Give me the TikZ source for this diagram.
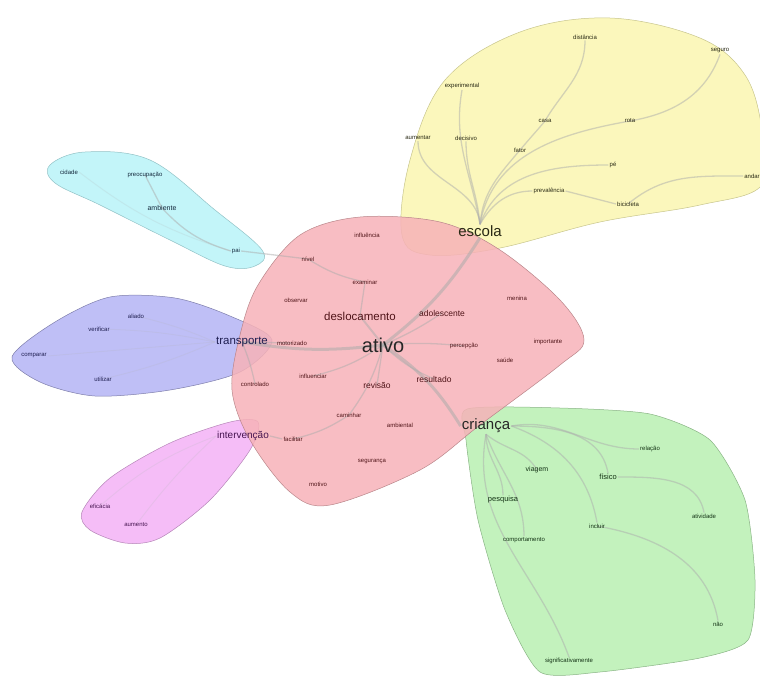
\documentclass[tikz,border=0pt]{standalone}
\usepackage{fontspec}
\setmainfont{Liberation Sans}
\usetikzlibrary{backgrounds}
\pgfdeclarelayer{hulls}
\pgfdeclarelayer{edges}
\pgfsetlayers{hulls,edges,main}
\definecolor{cpink}{RGB}{247,178,184}
\definecolor{cyell}{RGB}{250,246,176}
\definecolor{ccyan}{RGB}{184,243,248}
\definecolor{cblue}{RGB}{180,180,245}
\definecolor{cmag}{RGB}{243,178,246}
\definecolor{cgreen}{RGB}{184,240,178}
\definecolor{tpink}{RGB}{80,20,25}
\definecolor{tyell}{RGB}{40,40,20}
\definecolor{tcyan}{RGB}{20,40,60}
\definecolor{tblue}{RGB}{30,30,80}
\definecolor{tmag}{RGB}{70,20,80}
\definecolor{tgreen}{RGB}{20,50,20}
\tikzset{
  wd/.style={inner sep=1pt,font=\fontsize{6}{7}\selectfont},
  wm/.style={inner sep=1pt,font=\fontsize{8.5}{10}\selectfont},
  wl/.style={inner sep=1pt,font=\fontsize{11.5}{13}\selectfont},
  wxl/.style={inner sep=1pt,font=\fontsize{15}{17}\selectfont},
  wxxl/.style={inner sep=1pt,font=\fontsize{20}{22}\selectfont},
  hull/.style={fill opacity=0.85,line width=0.5pt},
  lk/.style={draw=gray!65,line width=1.3pt,opacity=0.5},
  lkb/.style={draw=gray!65,line width=3pt,opacity=0.55},
  lkf/.style={draw=gray!60,line width=1pt,opacity=0.18},
}
\begin{document}
\begin{tikzpicture}[x=1pt,y=-1pt]
\useasboundingbox (0,0) rectangle (760,675);
\begin{pgfonlayer}{hulls}
% yellow
\draw[hull,fill=cyell,draw=cyell!80!black] plot[smooth cycle,tension=0.6] coordinates {
 (402,235) (410,160) (445,80) (520,32) (610,18) (700,38) (745,75) (762,130) (762,185) (700,205) (600,222) (500,248) (430,255)};
% cyan
\draw[hull,fill=ccyan,draw=ccyan!80!black] plot[smooth cycle,tension=0.6] coordinates {
 (50,165) (85,152) (150,160) (215,210) (262,250) (255,266) (225,266) (170,240) (100,205) (55,183)};
% blue
\draw[hull,fill=cblue,draw=cblue!70!black] plot[smooth cycle,tension=0.5] coordinates {
 (12,357) (55,322) (110,297) (175,298) (230,316) (272,340) (240,372) (170,390) (95,396) (40,382)};
% magenta
\draw[hull,fill=cmag,draw=cmag!75!black] plot[smooth cycle,tension=0.5] coordinates {
 (82,512) (110,478) (170,443) (230,422) (258,422) (250,450) (210,500) (160,538) (125,543) (90,530)};
% green
\draw[hull,fill=cgreen,draw=cgreen!75!black] plot[smooth cycle,tension=0.4] coordinates {
 (467,409) (560,408) (650,414) (710,440) (745,500) (755,580) (748,640) (700,658) (600,672) (540,672) (505,610) (478,520) (466,440)};
% pink
\draw[hull,fill=cpink,draw=cpink!75!black] plot[smooth cycle,tension=0.55] coordinates {
 (258,285) (300,235) (360,217) (440,222) (500,250) (560,300) (584,340) (560,365) (480,425) (420,470) (330,505) (290,492) (250,440) (232,390) (240,335)};
\end{pgfonlayer}
% ---- pink nodes
\node[wxxl,text=black!85] (ativo) at (383,345) {ativo};
\node[wl,text=tpink] (desl) at (360,316) {deslocamento};
\node[wm,text=tpink] (adol) at (442,313) {adolescente};
\node[wd,text=tpink] (infl) at (367,235) {influência};
\node[wd,text=tpink] (nivel) at (308,259) {nível};
\node[wd,text=tpink] (exam) at (365,282) {examinar};
\node[wd,text=tpink] (obs) at (296,300) {observar};
\node[wd,text=tpink] (men) at (517,298) {menina};
\node[wd,text=tpink] (imp) at (548,342) {importante};
\node[wd,text=tpink] (perc) at (464,346) {percepção};
\node[wd,text=tpink] (saude) at (505,360) {saúde};
\node[wm,text=tpink] (res) at (434,379) {resultado};
\node[wm,text=tpink] (rev) at (377,385) {revisão};
\node[wd,text=tpink] (inflc) at (313,376) {influenciar};
\node[wd,text=tpink] (contr) at (255,384) {controlado};
\node[wd,text=tpink] (motor) at (292,343) {motorizado};
\node[wd,text=tpink] (cam) at (349,415) {caminhar};
\node[wd,text=tpink] (amb) at (400,425) {ambiental};
\node[wd,text=tpink] (fac) at (293,439) {facilitar};
\node[wd,text=tpink] (seg) at (372,462) {segurança};
\node[wd,text=tpink] (motivo) at (318,484) {motivo};
% ---- yellow nodes
\node[wxl,text=tyell] (escola) at (480,231) {escola};
\node[wd,text=tyell] (dist) at (585,37) {distância};
\node[wd,text=tyell] (seguro) at (720,51) {seguro};
\node[wd,text=tyell] (exper) at (462,86) {experimental};
\node[wd,text=tyell] (casa) at (545,121) {casa};
\node[wd,text=tyell] (rota) at (630,121) {rota};
\node[wd,text=tyell] (aument) at (418,138) {aumentar};
\node[wd,text=tyell] (decis) at (466,138) {decisivo};
\node[wd,text=tyell] (fator) at (520,150) {fator};
\node[wd,text=tyell] (pe) at (613,165) {pé};
\node[wd,text=tyell] (prev) at (549,191) {prevalência};
\node[wd,text=tyell] (bici) at (628,204) {bicicleta};
\node[wd,text=tyell] (andar) at (752,176) {andar};
% ---- cyan nodes
\node[wd,text=tcyan] (cid) at (69,172) {cidade};
\node[wd,text=tcyan] (preoc) at (145,175) {preocupação};
\node[wd,text=tcyan,font=\fontsize{7}{8}\selectfont] (ambte) at (162,208) {ambiente};
\node[wd,text=tcyan] (pai) at (236,251) {pai};
% ---- blue nodes
\node[wl,text=tblue] (transp) at (242,342) {transporte};
\node[wd,text=tblue] (alia) at (136,316) {aliado};
\node[wd,text=tblue] (verif) at (99,329) {verificar};
\node[wd,text=tblue] (comp) at (34,356) {comparar};
\node[wd,text=tblue] (util) at (103,379) {utilizar};
% ---- magenta nodes
\node[wm,text=tmag,font=\fontsize{10}{12}\selectfont] (interv) at (243,436) {intervenção};
\node[wd,text=tmag] (efic) at (100,506) {eficácia};
\node[wd,text=tmag] (aumto) at (136,525) {aumento};
% ---- green nodes
\node[wxl,text=black!85] (crianca) at (486,426) {criança};
\node[wd,text=tgreen] (rel) at (650,449) {relação};
\node[wm,text=tgreen,font=\fontsize{7}{8}\selectfont] (viag) at (537,470) {viagem};
\node[wm,text=tgreen,font=\fontsize{7.5}{8}\selectfont] (fis) at (608,477) {físico};
\node[wm,text=tgreen,font=\fontsize{7.5}{8}\selectfont] (pesq) at (503,500) {pesquisa};
\node[wd,text=tgreen] (incl) at (597,526) {incluir};
\node[wd,text=tgreen] (ativ) at (704,516) {atividade};
\node[wd,text=tgreen] (comport) at (524,540) {comportamento};
\node[wd,text=tgreen] (nao) at (718,624) {não};
\node[wd,text=tgreen] (signif) at (569,661) {significativamente};
% ---- edges
\begin{pgfonlayer}{edges}
\draw[lkb] (ativo.center) to[bend right=10] (escola.south);
\draw[lkb] (ativo.center) to[bend left=12] (crianca.west);
\draw[lkb] (ativo.center) to[bend left=8] (transp.center);
\draw[lk,line width=2pt] (ativo.center) to (desl.center);
\draw[lk] (ativo.center) to[bend right=10] (res.center);
\draw[lk] (ativo.center) to (rev.center);
\draw[lk] (ativo.center) to[bend left=5] (perc.center);
\draw[lk] (ativo.center) to[bend right=5] (adol.center);
\draw[lk] (ativo.center) to[bend left=10] (inflc.center);
\draw[lk] (ativo.center) to[bend left=10] (cam.center);
\draw[lk] (cam.center) to[bend left=10] (fac.center);
\draw[lk] (fac.west) to (interv.east);
\draw[lk] (desl.center) to (exam.center);
\draw[lk] (exam.center) to[bend left=10] (nivel.center);
\draw[lk] (nivel.center) to (pai.east);
\draw[lk] (transp.center) to (motor.center);
\draw[lk] (transp.center) to[bend left=5] (contr.center);
% cyan
\draw[lk] (pai.west) to[bend left=15] (ambte.center);
\draw[lk] (ambte.center) to (preoc.center);
\draw[lkf] (pai.west) to[bend left=10] (cid.east);
% blue
\draw[lkf] (transp.west) to[bend right=5] (alia.center);
\draw[lkf] (transp.west) to[bend right=5] (verif.center);
\draw[lkf] (transp.west) to (comp.east);
\draw[lkf] (transp.west) to[bend left=5] (util.center);
% magenta
\draw[lkf] (interv.west) to[bend right=10] (efic.center);
\draw[lkf] (interv.west) to[bend right=5] (aumto.center);
% yellow
\draw[lk] (escola.north) to[out=95,in=270] (aument.south);
\draw[lk] (escola.north) to[out=95,in=270] (decis.south);
\draw[lk] (escola.north) to[out=100,in=260] (exper.south);
\draw[lk] (escola.north) to[out=85,in=230] (fator.center);
\draw[lk] (fator.center) to[out=50,in=230] (casa.center);
\draw[lk] (casa.center) to[out=60,in=270] (dist.south);
\draw[lk] (escola.north) to[out=80,in=190] (rota.center);
\draw[lk] (rota.center) to[out=10,in=250] (seguro.south);
\draw[lk] (escola.north) to[out=70,in=180] (pe.west);
\draw[lk] (escola.north) to[out=60,in=180] (prev.west);
\draw[lk] (prev.east) to (bici.west);
\draw[lk] (bici.center) to[out=40,in=180] (andar.west);
% green
\draw[lk] (crianca.east) to[out=0,in=100] (fis.north);
\draw[lk] (crianca.south) to[out=-40,in=120] (viag.center);
\draw[lk] (crianca.south) to[out=-90,in=90] (pesq.north);
\draw[lk] (crianca.south) to[out=-70,in=90] (comport.north);
\draw[lk] (crianca.south) to[out=-100,in=110] (signif.north);
\draw[lk] (crianca.east) to[out=-20,in=100] (incl.north);
\draw[lk] (incl.center) to[out=-10,in=100] (nao.north);
\draw[lk] (fis.east) to[out=0,in=100] (ativ.north);
\draw[lk] (crianca.east) to[out=10,in=180] (rel.west);
\end{pgfonlayer}
\end{tikzpicture}
\end{document}
